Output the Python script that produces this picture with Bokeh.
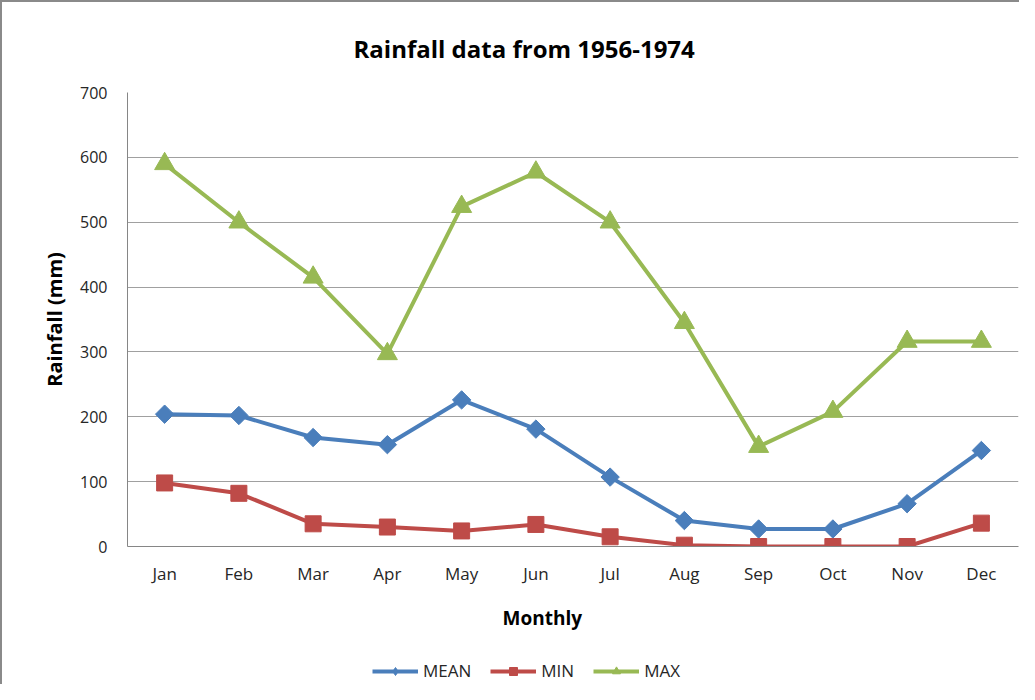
import math
from bokeh.plotting import figure
from bokeh.layouts import column
from bokeh.models import FactorRange, Range1d, Legend, LegendItem, Title, FixedTicker
from bokeh.embed import file_html
from bokeh.resources import INLINE

months = ["Jan", "Feb", "Mar", "Apr", "May", "Jun", "Jul", "Aug", "Sep", "Oct", "Nov", "Dec"]
mean_vals = [204, 202, 168, 157, 226, 181, 107, 40, 27, 27, 66, 148]
min_vals = [98, 82, 35, 30, 24, 34, 15, 2, 0, 0, 0, 36]
max_vals = [590, 500, 415, 297, 524, 577, 500, 345, 154, 208, 316, 316]
y_ticks = [0, 100, 200, 300, 400, 500, 600, 700]
series_names = ["MEAN", "MIN", "MAX"]

FONT = "Open Sans"
C_MEAN = "#4a7ebb"
C_MIN = "#be4b48"
C_MAX = "#98b954"

# (values, colour, marker, marker size, marker angle, legend marker)
series = [
    (mean_vals, C_MEAN, "square", 13, math.pi / 4, "diamond"),
    (min_vals, C_MIN, "square", 16, 0.0, "square"),
    (max_vals, C_MAX, "triangle", 20, 0.0, "triangle"),
]

p = figure(
    x_range=FactorRange(factors=months, range_padding=0),
    y_range=Range1d(0, 700),
    width=1017, height=648,
    output_backend="svg", toolbar_location=None,
    min_border_left=125, min_border_right=1,
    min_border_top=90, min_border_bottom=104,
)
p.outline_line_color = None
p.background_fill_color = "white"
p.border_fill_color = "white"

p.title.text = "Rainfall data from 1956-1974"
p.title.align = "left"
p.title.offset = 226
p.title.standoff = 55
p.title.text_font = FONT
p.title.text_font_size = "24px"
p.title.text_font_style = "bold"
p.title.text_color = "#000000"

# axes
p.yaxis.ticker = FixedTicker(ticks=y_ticks)
p.yaxis.axis_label = "Rainfall (mm)"
p.yaxis.axis_label_text_font = FONT
p.yaxis.axis_label_text_font_size = "20px"
p.yaxis.axis_label_text_font_style = "bold"
p.yaxis.axis_label_text_color = "#000000"
p.yaxis.axis_label_standoff = 9
for ax in (p.xaxis[0], p.yaxis[0]):
    ax.major_label_text_font = FONT
    ax.major_label_text_color = "#262626"
    ax.major_tick_line_color = None
    ax.major_tick_out = 0
    ax.major_tick_in = 0
    ax.minor_tick_line_color = None
    ax.axis_line_color = "#868686"
    ax.axis_line_width = 1
p.yaxis.major_label_text_font_size = "16px"
p.xaxis.major_label_text_font_size = "17px"
p.yaxis.major_label_standoff = 20
p.xaxis.major_label_standoff = 15

p.xgrid.grid_line_color = None
p.ygrid.grid_line_color = "#a0a0a0"
p.ygrid.grid_line_width = 1

for vals, col, mk, sz, ang, _lmk in series:
    p.line(months, vals, line_color=col, line_width=4)
    p.scatter(months, vals, marker=mk, size=sz, angle=ang, fill_color=col, line_color=col)

xtitle = Title(text="Monthly", align="left", offset=375, standoff=30,
               text_font=FONT, text_font_size="19px", text_font_style="bold", text_color="#000000")
p.add_layout(xtitle, "below")

# legend strip below the chart (its series lie outside its visible range,
# so only the legend entries show)
lf = figure(width=1017, height=34, output_backend="svg", toolbar_location=None,
            x_range=p.x_range, y_range=Range1d(10000, 10001), min_border=0)
lf.axis.visible = False
lf.grid.visible = False
lf.outline_line_color = None
lf.background_fill_color = "white"
lf.border_fill_color = "white"

items = []
for name, (vals, col, mk, sz, ang, lmk) in zip(series_names, series):
    r1 = lf.line(months, vals, line_color=col, line_width=4)
    r2 = lf.scatter(months, vals, marker=lmk, size=sz, fill_color=col, line_color=col)
    items.append(LegendItem(label=name, renderers=[r1, r2], index=0))

legend = Legend(
    items=items,
    orientation="horizontal",
    location=(245, 2),
    padding=0, margin=0, spacing=19,
    glyph_width=46, glyph_height=20, label_standoff=5,
    label_text_font=FONT, label_text_font_size="17px", label_text_color="#262626",
    border_line_color=None, background_fill_alpha=0,
)
lf.add_layout(legend, "center")

layout = column(p, lf, spacing=0)
layout.styles = {"border-left": "2px solid #8a8a8a", "border-top": "2px solid #8a8a8a",
                 "background-color": "white"}

open("out.html", "w").write(file_html(layout, INLINE))
